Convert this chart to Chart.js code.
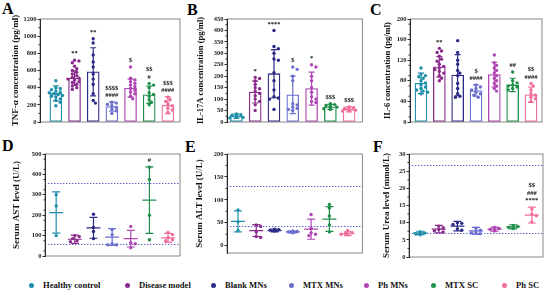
<!DOCTYPE html>
<html><head><meta charset="utf-8">
<script src="https://cdn.jsdelivr.net/npm/chart.js@4.4.0/dist/chart.umd.min.js"></script>
<style>
body{margin:0;width:546px;height:291px;background:#fff;position:relative;overflow:hidden;font-family:"Liberation Serif","Times New Roman",serif;}
canvas{position:absolute;}
.lbl{position:absolute;font-weight:bold;font-size:16px;line-height:16px;color:#000;}
.li{position:absolute;top:280px;white-space:nowrap;font-weight:bold;font-size:8.6px;line-height:10px;color:#111;}
.dot{display:inline-block;width:5px;height:5px;border-radius:50%;margin-right:9.5px;vertical-align:0.5px;}
</style></head><body>
<div class="lbl" style="left:2px;top:1px">A</div>
<div class="lbl" style="left:187px;top:2px">B</div>
<div class="lbl" style="left:370px;top:2px">C</div>
<div class="lbl" style="left:2px;top:138px">D</div>
<div class="lbl" style="left:185px;top:139px">E</div>
<div class="lbl" style="left:373px;top:139px">F</div>
<script>
// ---------- DATA ----------
const groups = ['Healthy control','Disease model','Blank MNs','MTX MNs','Ph MNs','MTX SC','Ph SC'];
const colors = ['#1f8ea8','#8a2b8c','#2b2a86','#6a6fcf','#b045b4','#1f8f4a','#f06e9c'];

// A: TNF-alpha (pg/ml)
const tnfMean = [333, 511, 585, 180, 395, 318, 195];
const tnfSD   = [88, 85, 280, 55, 105, 100, 98];
const tnfPts  = [
  [480,400,390,375,360,350,340,330,320,310,300,290,270,250,230,190],
  [720,710,690,650,620,600,580,560,540,520,510,500,490,470,460,440,420,400,380],
  [970,920,780,700,640,560,500,440,330,250,220],
  [230,220,205,190,170,150,130,100],
  [640,510,490,470,450,430,410,390,370,350,330,300,270],
  [450,430,400,340,320,300,260,230,200],
  [290,260,240,210,190,160,140,110]
];
const tnfNotes = [[],['**'],['**'],['$$$$','####'],['$'],['$$','#'],['$$$','####']];
const tnfTicks = [0,200,400,600,800,1000,1200];

// B: IL-17A (pg/ml)
const il17Mean = [25, 131, 211, 119, 146, 66, 55];
const il17SD   = [9, 48, 105, 82, 72, 11, 11];
const il17Pts  = [
  [35,32,30,28,26,24,22,20,18],
  [195,190,180,165,150,145,135,125,115,100,90,75,50],
  [400,330,320,300,275,270,215,180,140,110,105,100,55],
  [240,230,200,180,80,75,65,60,55,50],
  [250,240,200,180,150,130,110,100,90,85],
  [80,76,72,70,68,65,62,58,55],
  [66,63,60,58,55,52,50,48]
];
const il17Notes = [[],['*'],['****'],['$'],['*'],['$$$'],['$$$']];
const il17Ticks = [0,50,100,150,200,250,300,350,400,450];

// C: IL-6 (pg/ml)
const il6Mean = [75, 107, 91, 61, 92, 72, 53];
const il6SD   = [20, 20, 40, 11, 24, 13, 15];
const il6Pts  = [
  [105,93,90,88,85,80,76,72,68,65,62,60,58,55],
  [143,138,135,128,122,118,112,108,105,102,98,95,90,85,80],
  [158,135,120,112,100,95,90,75,65,55,50,48],
  [72,68,65,62,58,55,52,48],
  [130,115,110,105,100,95,90,85,80,75,70,65,60],
  [97,80,76,72,70,68,65,62],
  [75,70,62,55,52,48,45,40]
];
const il6Notes = [[],['**'],[],['$','####'],[],['##'],['$$','####']];
const il6Ticks = [0,20,40,60,80,100,120,140,160,180,200];

// D: AST (U/L)
const astMean = [213, 82, 138, 93, 85, 274, 89];
const astSD   = [101, 20, 51, 41, 41, 163, 22];
const astPts  = [[300,245,100],[100,95,85,75,70],[205,140,120,85],[130,105,60,55,55],[145,65,60,40],[435,375,200,80],[115,105,90,80,75]];
const astNotes = [[],[],[],[],[],['#'],[]];
const astRef = [358, 57];
const astTicks = [0,50,100,150,200,250,300,350,400,450,500];

// E: ALT (U/L)
const altMean = [53, 33, 33, 30, 36, 58, 26];
const altSD   = [23, 13, 3, 2, 22, 27, 4];
const altPts  = [[78,52,33],[45,42,30,20,18],[36,35,34,33,32],[32,31,30,29,28],[68,38,28,25,22],[90,82,65,45,30],[33,29,27,25,24]];
const altNotes = [[],[],[],[],[],[],[]];
const altRef = [131, 42];
const altTicks = [0,50,100,150,200];

// F: Urea (mmol/L)
const ureaMean = [7.0, 8.1, 9.0, 7.6, 8.1, 8.8, 12.2];
const ureaSD   = [0.5, 1.1, 1.4, 1.0, 0.6, 0.6, 2.3];
const ureaPts  = [[7.3,7.0,6.7,6.5],[9.0,8.5,8.0,7.6,7.3],[10.0,9.8,9.5,8.2,7.8],[8.4,7.8,7.2,7.0,6.8],[8.6,8.3,8.0,7.8,7.6],[9.2,8.9,8.6,8.6,8.3],[14.0,12.5,12.0,10.2]];
const ureaNotes = [[],[],[],[],[],[],['$$','###','****']];
const ureaRef = [26.7, 7.1];
const ureaTicks = [0,5,10,15,20,25,30];

// ---------- RENDER ----------
const FONT = "'Liberation Serif','Times New Roman',serif";

// legend
const legLeft = [28.5,124.5,210.5,288.5,363.5,430.5,501.5];
groups.forEach((g,i)=>{
  const d = document.createElement('div'); d.className='li'; d.style.left = legLeft[i]+'px';
  d.innerHTML = '<span class="dot" style="background:'+colors[i]+'"></span>'+g;
  document.body.appendChild(d);
});

function makePlugin(cfg){
  return {
    id:'panel'+cfg.id,
    beforeDatasetsDraw(chart){
      const {ctx, chartArea:a, scales:{y}} = chart;
      if (cfg.refs){
        ctx.save(); ctx.strokeStyle='#5b5fc9'; ctx.lineWidth=1; ctx.setLineDash([1.4,1.6]);
        cfg.refs.forEach(r=>{ const py=Math.round(y.getPixelForValue(r))+0.5; ctx.beginPath(); ctx.moveTo(a.left,py); ctx.lineTo(a.right,py); ctx.stroke(); });
        ctx.restore();
      }
    },
    afterDatasetsDraw(chart){
      const {ctx, chartArea:a, scales:{x,y}} = chart;
      ctx.save();
      cfg.means.forEach((m,i)=>{
        const px = x.getPixelForValue(i);
        const top = y.getPixelForValue(m+cfg.sds[i]);
        const bot = y.getPixelForValue(m-cfg.sds[i]);
        const mid = y.getPixelForValue(m);
        const cap = cfg.kind==='bar' ? 3 : 4;
        ctx.strokeStyle = colors[i]; ctx.lineWidth = 1.2;
        ctx.beginPath();
        ctx.moveTo(px, top); ctx.lineTo(px, bot);
        ctx.moveTo(px-cap, top); ctx.lineTo(px+cap, top);
        ctx.moveTo(px-cap, bot); ctx.lineTo(px+cap, bot);
        if (cfg.kind!=='bar'){ ctx.moveTo(px-7, mid); ctx.lineTo(px+7, mid); }
        ctx.stroke();
        const notes = cfg.notes[i];
        if (notes && notes.length){
          const maxV = Math.max(m+cfg.sds[i], ...cfg.pts[i]);
          let ty = y.getPixelForValue(maxV) - 6.5;
          ctx.fillStyle='#111'; ctx.font='bold 6.5px '+FONT; ctx.textAlign='center'; ctx.textBaseline='middle';
          for (let k=notes.length-1;k>=0;k--){ ctx.fillText(notes[k], px, ty); ty -= 7.5; }
        }
      });
      ctx.restore();
    },
    afterDraw(chart){
      const {ctx, chartArea:a, scales:{y}} = chart;
      ctx.save();
      ctx.strokeStyle='#555'; ctx.lineWidth=0.7;
      ctx.strokeRect(a.left, a.top, a.right-a.left, a.bottom-a.top);
      ctx.strokeStyle='#111'; ctx.lineWidth=0.8;
      const t = cfg.ticks;
      for (let k=0;k<t.length-1;k++){
        const v = (t[k]+t[k+1])/2; const py = y.getPixelForValue(v);
        ctx.beginPath(); ctx.moveTo(a.left-1.6, py); ctx.lineTo(a.left, py); ctx.stroke();
      }
      ctx.restore();
    }
  };
}

function buildPanel(cfg){
  const cv = document.createElement('canvas');
  const [L,T,W,H] = cfg.box;
  cv.style.left=L+'px'; cv.style.top=T+'px'; cv.style.width=W+'px'; cv.style.height=H+'px';
  cv.width=W; cv.height=H;
  document.body.appendChild(cv);
  const datasets = [];
  if (cfg.kind==='bar'){
    datasets.push({type:'bar', data: cfg.means.map((m,i)=>({x:i,y:m})), backgroundColor:'#ffffff',
      borderColor: colors, borderWidth:1.3, borderSkipped:false, barThickness:12, order:3});
  }
  cfg.pts.forEach((arr,i)=>{
    datasets.push({type:'scatter', data: arr.map(v=>({x:i,y:v})), pointRadius:1.7, pointHoverRadius:1.7,
      pointBackgroundColor: colors[i], pointBorderWidth:0, showLine:false, order:1});
  });
  const chart = new Chart(cv, {
    data:{datasets},
    options:{
      responsive:false, animation:false, events:[],
      layout:{padding:cfg.pad},
      plugins:{legend:{display:false}, tooltip:{enabled:false}},
      scales:{
        x:{type:'linear', display:false, min:cfg.xr[0], max:cfg.xr[1], offset:false},
        y:{type:'linear', min:cfg.yr[0], max:cfg.yr[1],
          afterBuildTicks: s => { s.ticks = cfg.ticks.map(v=>({value:v})); },
          afterFit: s => { s.width = cfg.yW; },
          border:{display:true, color:'#111', width:1},
          grid:{drawOnChartArea:false, drawTicks:true, tickLength:2.5, color:'#111', tickWidth:0.9},
          ticks:{callback: v => String(v), font:{family:FONT, size:6.5, weight:'bold'}, color:'#222', padding:1},
          title:{display:true, text:cfg.title, font:{family:FONT, size:cfg.tSize, weight:'bold', lineHeight:1}, padding:0, color:'#111'}
        }
      }
    },
    plugins:[makePlugin(cfg)]
  });
  const xs = chart.scales.x, ys = chart.scales.y;
  const ppu = xs.getPixelForValue(1) - xs.getPixelForValue(0);
  const cand = [0,2.2,-2.2,4.4,-4.4,6.6,-6.6];
  const dsOff = cfg.kind==='bar' ? 1 : 0;
  cfg.pts.forEach((arr,i)=>{
    const placed = [];
    const data = arr.map(v=>{
      const py = ys.getPixelForValue(v);
      let off = 0;
      for (const c of cand){
        if (placed.every(p => Math.hypot(p[0]-c, p[1]-py) >= 3.3)){ off = c; break; }
      }
      placed.push([off,py]);
      return {x: i + off/ppu, y: v};
    });
    chart.data.datasets[i+dsOff].data = data;
  });
  chart.update('none');
  return chart;
}

buildPanel({id:'A', kind:'bar', box:[0,0,182,135], pad:{left:11,top:19,bottom:13,right:2}, yW:29, tSize:9,
  xr:[-0.85,6.65], yr:[0,1200], ticks:tnfTicks, means:tnfMean, sds:tnfSD, pts:tnfPts, notes:tnfNotes,
  title:'TNF-α concentration (pg/ml)'});
buildPanel({id:'B', kind:'bar', box:[182,0,182,135], pad:{left:15,top:19,bottom:13,right:1}, yW:30, tSize:8.5,
  xr:[-0.5,6.7], yr:[0,450], ticks:il17Ticks, means:il17Mean, sds:il17SD, pts:il17Pts, notes:il17Notes,
  title:'IL-17A concentration (pg/ml)'});
buildPanel({id:'C', kind:'bar', box:[364,0,182,135], pad:{left:20,top:19,bottom:13,right:4}, yW:26, tSize:8.5,
  xr:[-0.6,6.6], yr:[0,200], ticks:il6Ticks, means:il6Mean, sds:il6SD, pts:il6Pts, notes:il6Notes,
  title:'IL-6 concentration (pg/ml)'});
buildPanel({id:'D', kind:'dot', box:[0,135,182,130], pad:{left:12.5,top:19,bottom:9,right:2}, yW:32.5, tSize:9,
  xr:[-0.6,6.64], yr:[0,500], ticks:astTicks, means:astMean, sds:astSD, pts:astPts, notes:astNotes, refs:astRef,
  title:'Serum AST level (U/L)'});
buildPanel({id:'E', kind:'dot', box:[182,135,182,130], pad:{left:13.5,top:19,bottom:12,right:1}, yW:31.5, tSize:9,
  xr:[-0.6,6.8], yr:[-16,200], ticks:altTicks, means:altMean, sds:altSD, pts:altPts, notes:altNotes, refs:altRef,
  title:'Serum ALT level (U/L)'});
buildPanel({id:'F', kind:'dot', box:[364,135,182,130], pad:{left:18.5,top:19,bottom:8,right:3}, yW:26.5, tSize:9,
  xr:[-0.6,6.6], yr:[0,30], ticks:ureaTicks, means:ureaMean, sds:ureaSD, pts:ureaPts, notes:ureaNotes, refs:ureaRef,
  title:'Serum Urea level (mmol/L)'});
</script>
</body></html>
